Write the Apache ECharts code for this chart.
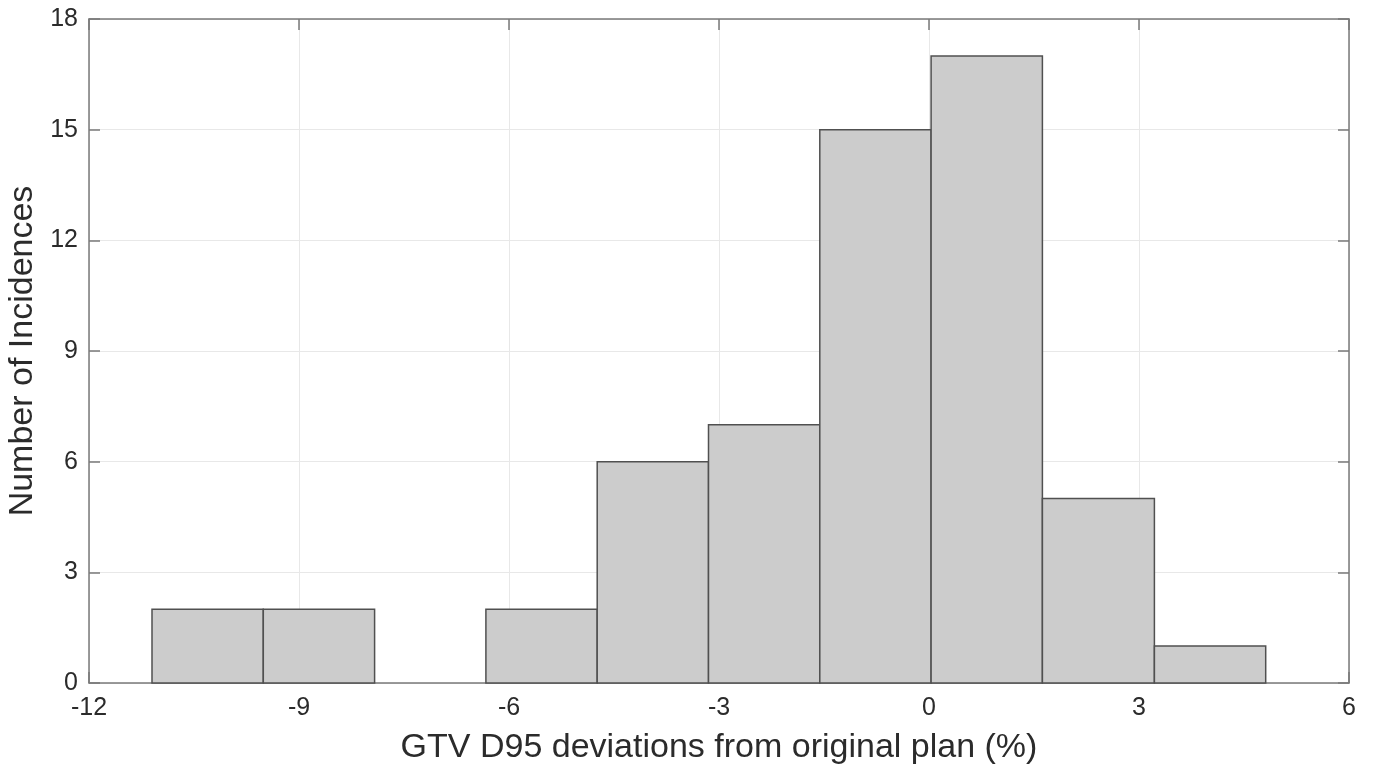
<!DOCTYPE html>
<html>
<head>
<meta charset="utf-8">
<script src="https://cdn.jsdelivr.net/npm/echarts@6/dist/echarts.min.js"></script>
<style>html,body{margin:0;padding:0;background:#fff;}#c{width:1376px;height:775px;}</style>
</head>
<body>
<div id="c"></div>
<script>
// Histogram bin edges (GTV D95 deviation, %) and counts
const binEdges = [-11.10, -9.51, -7.92, -6.33, -4.74, -3.15, -1.56, 0.03, 1.62, 3.22, 4.81];
const counts = [2, 2, 0, 2, 6, 7, 15, 17, 5, 1];
const xTicks = [-12, -9, -6, -3, 0, 3, 6];
const yTicks = [0, 3, 6, 9, 12, 15, 18];
const xTitle = 'GTV D95 deviations from original plan (%)';
const yTitle = 'Number of Incidences';

const data = counts.map((c, i) => [binEdges[i], binEdges[i + 1], c]);

const axisLineStyle = { color: '#7a7a7a', width: 1.5 };
const font = 'Liberation Sans, Arial, sans-serif';
const labelColor = '#2b2b2b';

function boxAxis(position) {
  return {
    type: 'value', position: position,
    axisLine: { show: true, onZero: false, lineStyle: axisLineStyle },
    axisTick: { show: true, inside: true, length: 11, lineStyle: axisLineStyle },
    axisLabel: { show: false }, splitLine: { show: false }
  };
}

const chart = echarts.init(document.getElementById('c'), null, { renderer: 'canvas' });
chart.setOption({
  animation: false,
  backgroundColor: '#fff',
  grid: { left: 89, right: 27, top: 19, bottom: 92, containLabel: false, outerBoundsMode: 'none' },
  xAxis: [{
    type: 'value', position: 'bottom', min: xTicks[0], max: xTicks[xTicks.length - 1], interval: 3,
    name: xTitle, nameLocation: 'middle', nameGap: 48,
    nameTextStyle: { fontFamily: font, fontSize: 34, color: labelColor },
    axisLine: { show: true, onZero: false, lineStyle: axisLineStyle },
    axisTick: { show: true, inside: true, length: 11, lineStyle: axisLineStyle },
    axisLabel: { fontFamily: font, fontSize: 25, color: labelColor, margin: 13 },
    splitLine: { show: true, lineStyle: { color: '#e8e8e8', width: 1 } }
  }, Object.assign(boxAxis('top'), { min: xTicks[0], max: xTicks[xTicks.length - 1], interval: 3 })],
  yAxis: [{
    type: 'value', position: 'left', min: yTicks[0], max: yTicks[yTicks.length - 1], interval: 3,
    name: yTitle, nameLocation: 'middle', nameGap: 46, nameRotate: 90,
    nameTextStyle: { fontFamily: font, fontSize: 34, color: labelColor },
    axisLine: { show: true, onZero: false, lineStyle: axisLineStyle },
    axisTick: { show: true, inside: true, length: 11, lineStyle: axisLineStyle },
    axisLabel: { fontFamily: font, fontSize: 25, color: labelColor, margin: 11 },
    splitLine: { show: true, lineStyle: { color: '#e8e8e8', width: 1 } }
  }, Object.assign(boxAxis('right'), { min: yTicks[0], max: yTicks[yTicks.length - 1], interval: 3 })],
  series: [{
    type: 'custom',
    xAxisIndex: 0, yAxisIndex: 0,
    renderItem: function (params, api) {
      const x0 = api.value(0), x1 = api.value(1), c = api.value(2);
      if (c <= 0) return null;
      const p0 = api.coord([x0, c]);
      const p1 = api.coord([x1, 0]);
      return {
        type: 'rect',
        shape: { x: p0[0], y: p0[1], width: p1[0] - p0[0], height: p1[1] - p0[1] },
        style: { fill: '#cccccc', stroke: '#505050', lineWidth: 1.5 }
      };
    },
    encode: { x: [0, 1], y: 2 },
    data: data,
    z: 3
  }]
});
</script>
</body>
</html>
